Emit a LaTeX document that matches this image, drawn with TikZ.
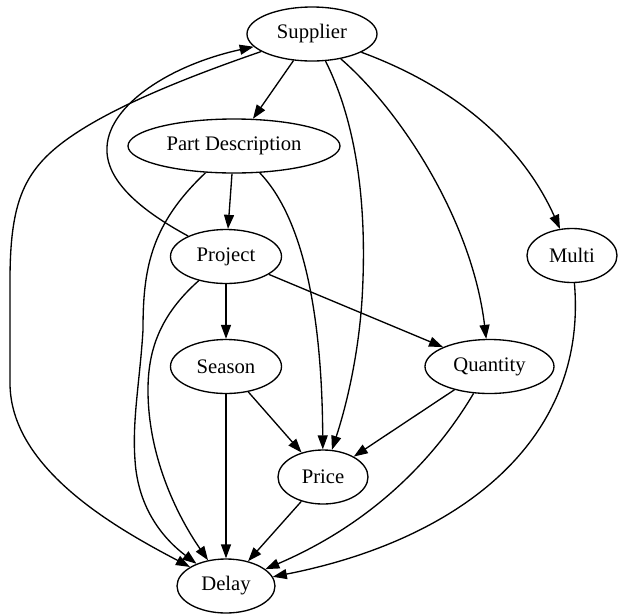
\documentclass[tikz,border=0pt]{standalone}
\usepackage{fontspec}
\setmainfont{Liberation Serif}
\usetikzlibrary{shapes.geometric,arrows.meta}
\begin{document}
\begin{tikzpicture}[x=0.75pt,y=-0.75pt,
  vert/.style={ellipse,draw,line width=1pt,inner sep=0pt,minimum height=40.5pt,
    font=\fontsize{15.5}{18}\selectfont},
  arr/.style={line width=1pt,-{Triangle[length=10.5pt,width=7.5pt]}}]
\useasboundingbox (0,0) rectangle (618,615);

% variables
\node[vert,minimum width=97.5pt] (sup) at (312,34)    {Supplier};
\node[vert,minimum width=159pt]  (pd)  at (234,146)   {Part Description};
\node[vert,minimum width=83.25pt](prj) at (226,256.5) {Project};
\node[vert,minimum width=67.5pt] (mul) at (572,255.5) {Multi};
\node[vert,minimum width=83.25pt](sea) at (226,366.5) {Season};
\node[vert,minimum width=96.75pt](qty) at (489.5,366.5) {Quantity};
\node[vert,minimum width=67.5pt] (pri) at (323,477)   {Price};
\node[vert,minimum width=73.5pt] (del) at (226,586)   {Delay};

% straight dependencies
\draw[arr] (sup) -- (pd);
\draw[arr] (pd) -- (prj);
\draw[arr] (prj) -- (sea);
\draw[arr] (prj) -- (qty);
\draw[arr] (sea) -- (del);
\draw[arr] (sea) -- (pri);
\draw[arr] (qty) -- (pri);
\draw[arr] (pri) -- (del);

% curved dependencies
\draw[arr] (prj) .. controls (140,210) and (105,180) .. (107,147)
                 .. controls (109,105) and (170,65) .. (sup);
\draw[arr] (sup) .. controls (170,83) and (80,120) .. (43,160)
                 .. controls (20,185) and (10,215) .. (10,280)
                 -- (10,383)
                 .. controls (10,470) and (120,530) .. (del);
\draw[arr] (sup) .. controls (355,120) and (368,200) .. (362,300)
                 .. controls (358,360) and (345,410) .. (pri);
\draw[arr] (sup) .. controls (400,110) and (472,220) .. (qty);
\draw[arr] (sup) .. controls (450,85) and (520,140) .. (mul);
\draw[arr] (pd) .. controls (150,225) and (143,270) .. (143,330)
                .. controls (140,380) and (132,420) .. (135,460)
                .. controls (138,510) and (165,540) .. (del);
\draw[arr] (pd) .. controls (305,220) and (322,320) .. (pri);
\draw[arr] (prj) .. controls (160,315) and (148,350) .. (148,390)
                 .. controls (148,460) and (180,520) .. (del);
\draw[arr] (qty) .. controls (440,450) and (380,520) .. (del);
\draw[arr] (mul) .. controls (588,440) and (460,540) .. (del);
\end{tikzpicture}
\end{document}
